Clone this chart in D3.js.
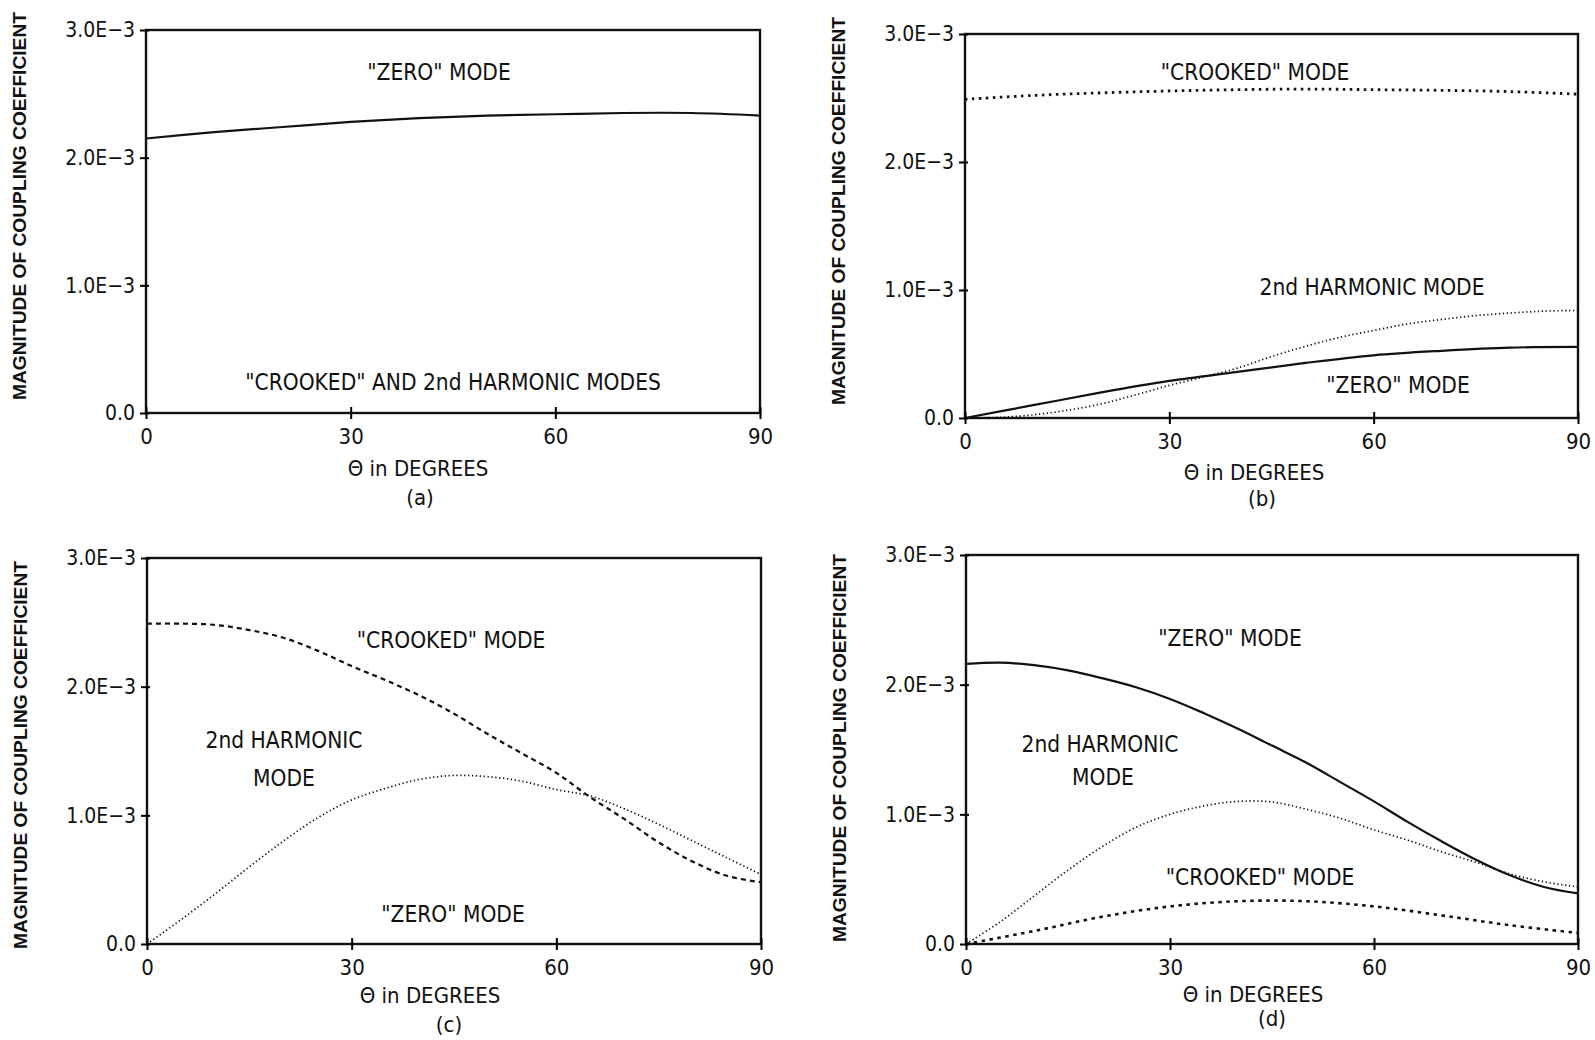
<!DOCTYPE html>
<html lang="en">
<head>
<meta charset="UTF-8">
<title>Coupling coefficient vs angle</title>
<script src="https://d3js.org/d3.v7.min.js"></script>
<style>
    body { margin: 0; background: #fff; }
    svg { display: block; }
    text { font-family: "Liberation Sans Narrow", "DejaVu Sans Condensed", "Arial Narrow", sans-serif; fill: #111; }
    .ylab { font-family: "Liberation Sans", Arial, sans-serif; font-weight: bold; }
</style>
</head>
<body>
<svg id="chart"></svg>
<script>
    // angles (degrees)
    const theta10 = [0, 10, 20, 30, 40, 50, 60, 70, 80, 90];
    const theta5 = [0, 5, 10, 15, 20, 25, 30, 35, 40, 45, 50, 55, 60, 65, 70, 75, 80, 85, 90];

    // values in units of 1E-3
    // (a)
    const zeroA = [2.15, 2.20, 2.24, 2.28, 2.31, 2.33, 2.34, 2.35, 2.35, 2.33];
    const crookedA = [0, 0, 0, 0, 0, 0, 0, 0, 0, 0];
    // (b)
    const crookedB = [2.49, 2.52, 2.54, 2.555, 2.565, 2.57, 2.565, 2.56, 2.55, 2.53];
    const zeroB = [0, 0.10, 0.20, 0.29, 0.36, 0.43, 0.49, 0.525, 0.55, 0.555];
    const harmonicB = [0, 0.005, 0.025, 0.06, 0.11, 0.18, 0.255, 0.32, 0.39, 0.48, 0.56, 0.63, 0.684, 0.735, 0.77, 0.80, 0.82, 0.835, 0.84];
    // (c)
    const crookedC = [2.49, 2.49, 2.48, 2.44, 2.38, 2.28, 2.16, 2.05, 1.93, 1.79, 1.63, 1.48, 1.33, 1.14, 0.97, 0.79, 0.64, 0.53, 0.48];
    const harmonicC = [0, 0.19, 0.39, 0.60, 0.80, 0.98, 1.12, 1.21, 1.28, 1.31, 1.30, 1.265, 1.20, 1.15, 1.05, 0.93, 0.80, 0.67, 0.54];
    const zeroC = [0, 0, 0, 0, 0, 0, 0, 0, 0, 0];
    // (d)
    const zeroD = [2.16, 2.17, 2.15, 2.11, 2.05, 1.98, 1.89, 1.78, 1.66, 1.53, 1.40, 1.25, 1.10, 0.94, 0.79, 0.65, 0.53, 0.44, 0.39];
    const harmonicD = [0, 0.17, 0.37, 0.57, 0.75, 0.90, 1.00, 1.065, 1.10, 1.095, 1.04, 0.97, 0.88, 0.80, 0.71, 0.63, 0.54, 0.48, 0.44];
    const crookedD = [0, 0.10, 0.21, 0.29, 0.33, 0.33, 0.29, 0.22, 0.145, 0.085];

    const xTicks = [0, 30, 60, 90];
    const yTicks = [0, 1, 2, 3];
    const yTickLabels = ["0.0", "1.0E\u22123", "2.0E\u22123", "3.0E\u22123"];

    const solid = { width: 2.2, dash: null };
    const fineDot = { width: 1.7, dash: "1.3,2.6" };
    const heavyDot = { width: 2.8, dash: "2.5,4.5" };
    const dashed = { width: 2.2, dash: "5,4" };
    const shortDash = { width: 2.6, dash: "3.5,4.5" };

    const panels = [
        {
            name: "(a)", left: 146, top: 30, w: 614, h: 383,
            ylabY: 206, xlabX: 418, xlabY: 468, nameX: 420, nameY: 497,
            series: [
                { x: theta10, y: zeroA, style: solid },
                { x: theta10, y: crookedA, style: fineDot }
            ],
            notes: [
                { t: "\"ZERO\" MODE", x: 439, y: 72 },
                { t: "\"CROOKED\" AND 2nd HARMONIC MODES", x: 453, y: 382 }
            ]
        },
        {
            name: "(b)", left: 965, top: 34, w: 613, h: 384,
            ylabY: 211, xlabX: 1254, xlabY: 472, nameX: 1262, nameY: 498,
            series: [
                { x: theta10, y: crookedB, style: heavyDot },
                { x: theta10, y: zeroB, style: solid },
                { x: theta5, y: harmonicB, style: fineDot }
            ],
            notes: [
                { t: "\"CROOKED\" MODE", x: 1255, y: 72 },
                { t: "2nd HARMONIC MODE", x: 1372, y: 287 },
                { t: "\"ZERO\" MODE", x: 1398, y: 385 }
            ]
        },
        {
            name: "(c)", left: 147, top: 558, w: 614, h: 386,
            ylabY: 755, xlabX: 430, xlabY: 995, nameX: 449, nameY: 1024,
            series: [
                { x: theta10, y: zeroC, style: solid },
                { x: theta5, y: crookedC, style: dashed },
                { x: theta5, y: harmonicC, style: fineDot }
            ],
            notes: [
                { t: "\"CROOKED\" MODE", x: 451, y: 640 },
                { t: "2nd HARMONIC", x: 284, y: 740 },
                { t: "MODE", x: 284, y: 778 },
                { t: "\"ZERO\" MODE", x: 453, y: 914 }
            ]
        },
        {
            name: "(d)", left: 966, top: 555, w: 612, h: 389,
            ylabY: 748, xlabX: 1253, xlabY: 994, nameX: 1272, nameY: 1018,
            series: [
                { x: theta5, y: zeroD, style: solid },
                { x: theta5, y: harmonicD, style: fineDot },
                { x: theta10, y: crookedD, style: shortDash }
            ],
            notes: [
                { t: "\"ZERO\" MODE", x: 1230, y: 638 },
                { t: "2nd HARMONIC", x: 1100, y: 744 },
                { t: "MODE", x: 1103, y: 777 },
                { t: "\"CROOKED\" MODE", x: 1260, y: 877 }
            ]
        }
    ];

    const svg = d3.select("#chart").attr("width", 1595).attr("height", 1040);

    panels.forEach(p => {
        const x = d3.scaleLinear().domain([0, 90]).range([p.left, p.left + p.w]);
        const y = d3.scaleLinear().domain([0, 3]).range([p.top + p.h, p.top]);
        const g = svg.append("g");

        // curves
        const line = d3.line().curve(d3.curveCatmullRom.alpha(0.5));
        p.series.forEach(s => {
            const pts = s.x.map((v, i) => [x(v), y(s.y[i])]);
            g.append("path")
                .attr("d", line(pts))
                .attr("fill", "none")
                .attr("stroke", "#111")
                .attr("stroke-width", s.style.width)
                .attr("stroke-dasharray", s.style.dash);
        });

        // frame
        g.append("rect")
            .attr("x", p.left).attr("y", p.top)
            .attr("width", p.w).attr("height", p.h)
            .attr("fill", "none").attr("stroke", "#111").attr("stroke-width", 2.4);

        // axes, ticks cross the frame
        const xAxis = d3.axisBottom(x).tickValues(xTicks).tickSizeInner(6).tickSizeOuter(0).tickPadding(8);
        const gx = g.append("g").attr("transform", `translate(0,${p.top + p.h})`).call(xAxis);
        gx.select(".domain").remove();
        gx.selectAll(".tick line").attr("y1", -6).attr("stroke-width", 2);
        gx.selectAll(".tick text").attr("font-size", 22).attr("dy", "0.75em");

        const yAxis = d3.axisLeft(y).tickValues(yTicks).tickFormat((d, i) => yTickLabels[i])
            .tickSizeInner(6).tickSizeOuter(0).tickPadding(5);
        const gy = g.append("g").attr("transform", `translate(${p.left},0)`).call(yAxis);
        gy.select(".domain").remove();
        gy.selectAll(".tick line").attr("x1", 3).attr("stroke-width", 2);
        gy.selectAll(".tick text").attr("font-size", 21);

        gx.attr("font-family", null);
        gy.attr("font-family", null);

        // y label
        g.append("text")
            .attr("class", "ylab")
            .attr("transform", `translate(${p.left - 126},${p.ylabY}) rotate(-90)`)
            .attr("text-anchor", "middle")
            .attr("dy", "0.35em")
            .attr("font-size", 18)
            .attr("textLength", 388)
            .attr("lengthAdjust", "spacingAndGlyphs")
            .text("MAGNITUDE OF COUPLING COEFFICIENT");

        // x label and panel name
        g.append("text")
            .attr("x", p.xlabX).attr("y", p.xlabY)
            .attr("text-anchor", "middle").attr("dy", "0.35em")
            .attr("font-size", 22)
            .text("Θ in DEGREES");
        g.append("text")
            .attr("x", p.nameX).attr("y", p.nameY)
            .attr("text-anchor", "middle").attr("dy", "0.35em")
            .attr("font-size", 22)
            .text(p.name);

        // annotations
        g.selectAll(".note").data(p.notes).join("text")
            .attr("class", "note")
            .attr("x", d => d.x).attr("y", d => d.y)
            .attr("text-anchor", "middle").attr("dy", "0.35em")
            .attr("font-size", 22.5)
            .text(d => d.t);
    });
</script>
</body>
</html>
